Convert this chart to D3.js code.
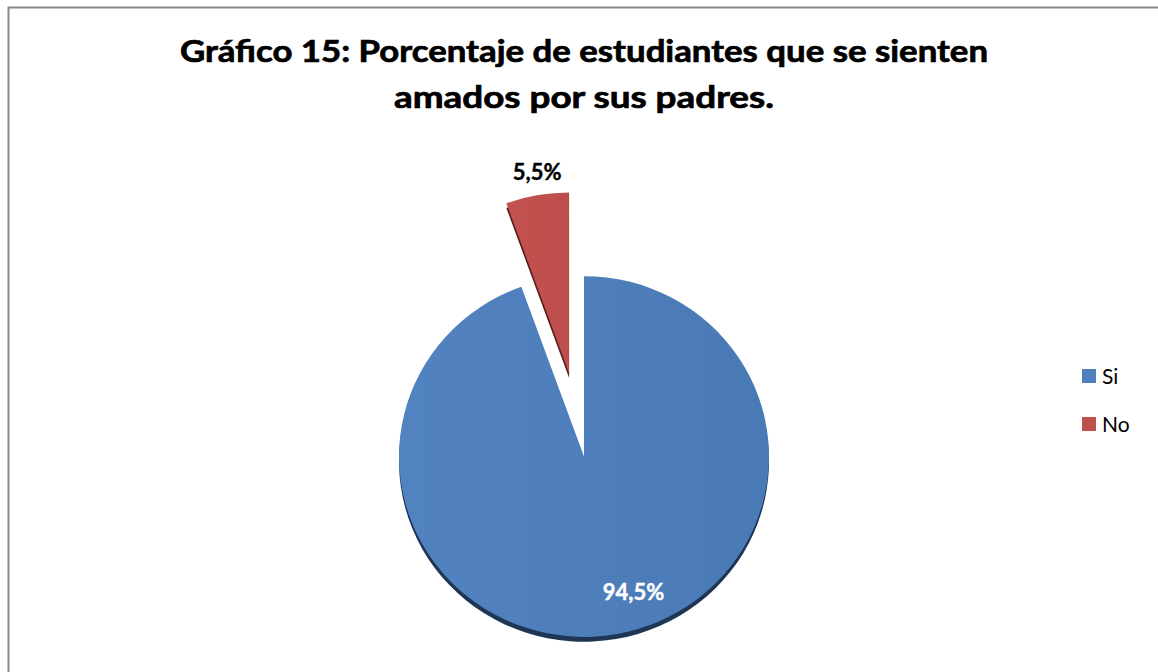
<!DOCTYPE html>
<html>
<head>
<meta charset="utf-8">
<script src="https://cdn.jsdelivr.net/npm/d3@7"></script>
<style>
  html, body { margin: 0; padding: 0; background: #fff; }
  svg { display: block; }
</style>
</head>
<body>
<svg id="chart" width="1158" height="672"></svg>
<script>
const categories = ["Si", "No"];
const values = [94.5, 5.5];
const valueLabels = ["94,5%", "5,5%"];
const titleLines = ["Gráfico 15: Porcentaje de estudiantes que se sienten", "amados por sus padres."];
const colors = ["#4F81BD", "#C0504D"];
const darkColors = ["#1F3556", "#5A1E1C"];
const exploded = [false, true];

const svg = d3.select("#chart");
const W = 1158, H = 672;

// frame
svg.append("path")
  .attr("d", `M8.5,${H} L8.5,7.5 L${W},7.5`)
  .attr("fill", "none").attr("stroke", "#8a8a8a").attr("stroke-width", 2);

// gradient
const defs = svg.append("defs");
const g1 = defs.append("linearGradient").attr("id", "gBlue").attr("x1", "0%").attr("x2", "100%").attr("y1", "0%").attr("y2", "0%");
g1.append("stop").attr("offset", "0%").attr("stop-color", "#5283C1");
g1.append("stop").attr("offset", "100%").attr("stop-color", "#4A7AB5");
const g2 = defs.append("linearGradient").attr("id", "gRed").attr("x1", "0%").attr("x2", "100%");
g2.append("stop").attr("offset", "0%").attr("stop-color", "#C3524F");
g2.append("stop").attr("offset", "100%").attr("stop-color", "#BD4E4B");
const fills = ["url(#gBlue)", "url(#gRed)"];

// title
const title = svg.append("g");
const titleWidths = [808, 380];
titleLines.forEach((t, i) => {
  title.append("text")
    .attr("x", 584).attr("y", 62 + i * 46)
    .attr("text-anchor", "middle")
    .attr("font-family", "Lato, 'Open Sans', sans-serif")
    .attr("font-weight", "bold")
    .attr("font-size", 30)
    .attr("fill", "#000")
    .attr("stroke", "#000")
    .attr("stroke-width", 0.7)
    .attr("textLength", titleWidths[i])
    .attr("lengthAdjust", "spacingAndGlyphs")
    .text(t);
});

// pie
const cx = 584, cy = 456.5, r = 185, sy = 0.975, explodeDist = 87, depth = 5;
const pie = d3.pie().sort(null).startAngle(0).endAngle(2 * Math.PI);
const arcs = pie(values);
const arc = d3.arc().innerRadius(0).outerRadius(r);

function offset(d, i) {
  if (!exploded[i]) return [0, 0];
  const a = (d.startAngle + d.endAngle) / 2;
  return [Math.sin(a) * explodeDist, -Math.cos(a) * explodeDist];
}

const pieG = svg.append("g").attr("transform", `translate(${cx},${cy}) scale(1,${sy})`);

// depth layer
pieG.selectAll("path.depth").data(arcs).join("path")
  .attr("class", "depth")
  .attr("d", arc)
  .attr("fill", (d, i) => darkColors[i])
  .attr("transform", (d, i) => { const o = offset(d, i); return `translate(${o[0]},${o[1] + depth})`; });

pieG.selectAll("path.slice").data(arcs).join("path")
  .attr("class", "slice")
  .attr("d", arc)
  .attr("fill", (d, i) => fills[i])
  .attr("transform", (d, i) => { const o = offset(d, i); return `translate(${o[0]},${o[1]})`; });

// labels
arcs.forEach((d, i) => {
  const a = (d.startAngle + d.endAngle) / 2;
  let x, y, fill;
  if (exploded[i]) {
    const R = 296;
    x = cx + Math.sin(a) * R + 4;
    y = cy - Math.cos(a) * R * sy;
    fill = "#000";
  } else {
    const R = r * 0.74;
    x = cx + Math.sin(a) * R + 26;
    y = cy - Math.cos(a) * R * sy + 4;
    fill = "#fff";
  }
  svg.append("text")
    .attr("x", x).attr("y", y)
    .attr("dy", "0.35em")
    .attr("text-anchor", "middle")
    .attr("font-family", "Lato, 'Open Sans', sans-serif")
    .attr("font-weight", "bold")
    .attr("font-size", 22)
    .attr("fill", fill)
    .attr("stroke", fill)
    .attr("stroke-width", 0.4)
    .text(valueLabels[i]);
});

// legend
const leg = svg.append("g").attr("transform", "translate(1082,369)");
categories.forEach((c, i) => {
  const row = leg.append("g").attr("transform", `translate(0,${i * 48})`);
  row.append("rect").attr("x", 0).attr("y", 0).attr("width", 14).attr("height", 14).attr("fill", colors[i]);
  row.append("text").attr("x", 20).attr("y", 15)
    .attr("font-family", "Lato, 'Open Sans', sans-serif")
    .attr("font-size", 21)
    .attr("fill", "#000")
    .text(c);
});
</script>
</body>
</html>
